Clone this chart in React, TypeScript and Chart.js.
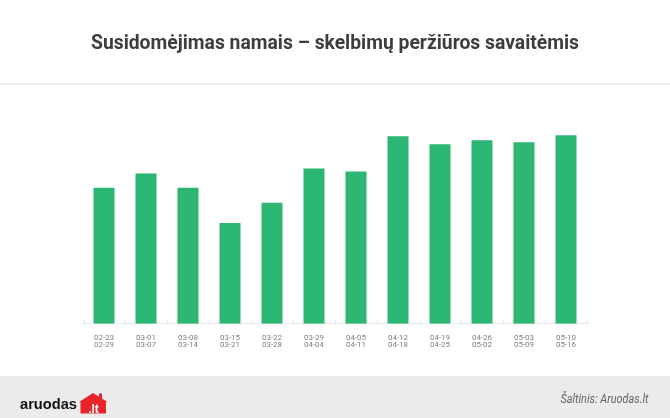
import React, { useEffect, useRef } from "react";
import { Chart, registerables } from "chart.js";

Chart.register(...registerables);

const weekStarts = ["02-23", "03-01", "03-08", "03-15", "03-22", "03-29", "04-05", "04-12", "04-19", "04-26", "05-03", "05-10"];
const weekEnds = ["02-29", "03-07", "03-14", "03-21", "03-28", "04-04", "04-11", "04-18", "04-25", "05-02", "05-09", "05-16"];
const views = [135, 149, 135, 100, 120, 154, 151, 186, 178, 182, 180, 187];

const titleText = "Susidomėjimas namais – skelbimų peržiūros savaitėmis";
const sourceText = "Šaltinis: Aruodas.lt";
const logoText = "aruodas";
const logoTld = ".lt";

const W = 670;
const H = 418;

const decorPlugin = {
  id: "decor",
  beforeDraw(chart: any) {
    const ctx = chart.ctx as CanvasRenderingContext2D;
    ctx.save();
    ctx.fillStyle = "#ffffff";
    ctx.fillRect(0, 0, W, H);
    // separator
    ctx.fillStyle = "#ececec";
    ctx.fillRect(0, 83, W, 2);
    // footer
    ctx.fillStyle = "#ebebeb";
    ctx.fillRect(0, 376, W, H - 376);
    // title
    ctx.fillStyle = "#3d3d3f";
    ctx.font = "bold 20px Roboto";
    ctx.textAlign = "center";
    ctx.textBaseline = "alphabetic";
    ctx.fillText(titleText, W / 2, 49, 488);
    // logo text
    ctx.fillStyle = "#111111";
    ctx.font = "bold 15px 'Liberation Sans'";
    ctx.textAlign = "left";
    ctx.fillText(logoText, 20, 408.5, 57);
    // house
    ctx.fillStyle = "#e8232a";
    ctx.beginPath();
    ctx.moveTo(80.5, 413.5);
    ctx.lineTo(80.5, 402);
    ctx.lineTo(79, 402);
    ctx.lineTo(93, 393);
    ctx.lineTo(99, 396.7);
    ctx.lineTo(99, 393.5);
    ctx.lineTo(102, 393.5);
    ctx.lineTo(102, 398.6);
    ctx.lineTo(107.5, 402);
    ctx.lineTo(106, 402);
    ctx.lineTo(106, 413.5);
    ctx.closePath();
    ctx.fill();
    ctx.fillStyle = "#ffffff";
    ctx.font = "bold 12px 'Liberation Sans'";
    ctx.textAlign = "center";
    ctx.fillText(logoTld, 93.5, 412.5, 24);
    // source
    ctx.fillStyle = "#666666";
    ctx.font = "italic 12px Roboto";
    ctx.textAlign = "right";
    ctx.fillText(sourceText, 648.5, 402.5, 88);
    ctx.restore();
  },
  afterDraw(chart: any) {
    const ctx = chart.ctx as CanvasRenderingContext2D;
    const x = chart.scales.x;
    const n = x.ticks.length;
    const step = (x.right - x.left) / n;
    ctx.save();
    ctx.strokeStyle = "#e2e2e2";
    ctx.lineWidth = 1;
    ctx.beginPath();
    for (let i = 0; i <= n; i++) {
      const px = Math.round(x.left + i * step) + 0.5;
      ctx.moveTo(px, x.top - 4);
      ctx.lineTo(px, x.top);
    }
    ctx.stroke();
    ctx.restore();
  },
};

export default function App() {
  const ref = useRef<HTMLCanvasElement | null>(null);
  useEffect(() => {
    if (!ref.current) return;
    const labels = weekStarts.map((s, i) => [s, weekEnds[i]]);
    const chart = new Chart(ref.current, {
      type: "bar",
      data: {
        labels,
        datasets: [
          {
            data: views,
            backgroundColor: "#2bb673",
            borderWidth: 0,
            barPercentage: 0.5,
            categoryPercentage: 1,
          },
        ],
      },
      options: {
        responsive: false,
        animation: false,
        layout: { padding: { left: 83, right: 83, top: 100, bottom: 59 } },
        plugins: {
          legend: { display: false },
          tooltip: { enabled: false },
          title: { display: false },
        },
        scales: {
          x: {
            grid: { display: true, drawOnChartArea: false, drawTicks: false },
            border: { display: true, color: "#e6e6e6", width: 1 },
            ticks: {
              color: "#808080",
              padding: 10,
              maxRotation: 0,
              autoSkip: false,
              font: { family: "Roboto", size: 8, lineHeight: 0.95 },
            },
          },
          y: {
            display: false,
            min: 0,
            max: 222,
          },
        },
      },
      plugins: [decorPlugin],
    });
    return () => chart.destroy();
  }, []);
  return (
    <div style={{ position: "fixed", left: 0, top: 0, width: W, height: H, background: "#fff" }}>
      <canvas ref={ref} width={W} height={H} style={{ display: "block" }} />
    </div>
  );
}
